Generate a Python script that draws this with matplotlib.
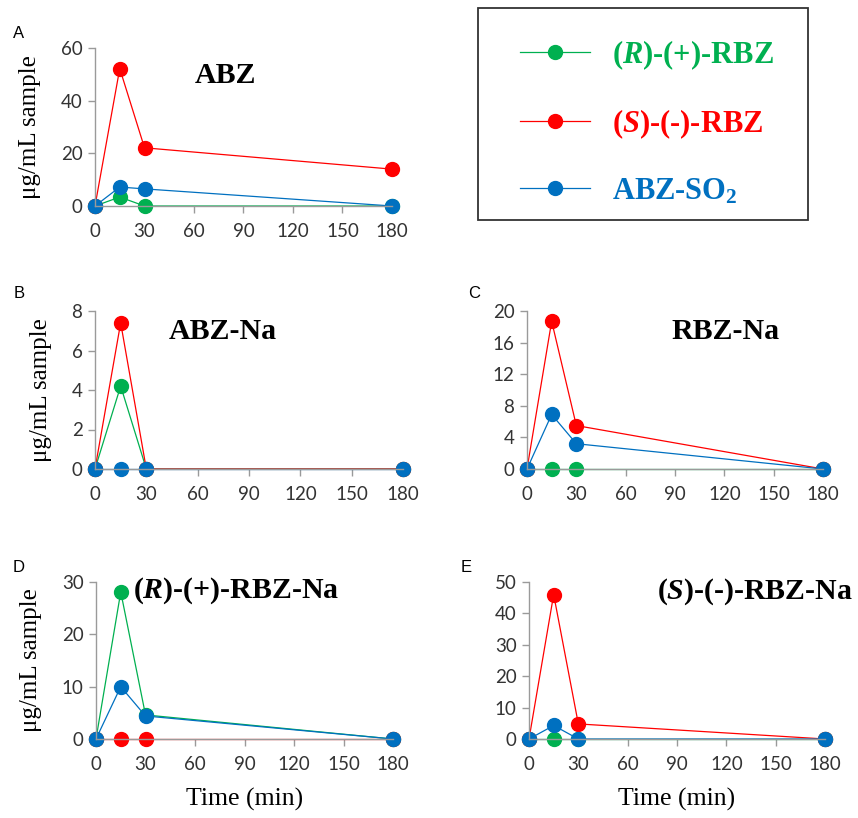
"""
plot.py
Concentraciones de RBZ / ABZ-SO2 en el tiempo (cinco paneles + leyenda).
"""
import matplotlib
matplotlib.use("Agg")
import matplotlib.pyplot as plt
from matplotlib.patches import Rectangle

plt.rcParams["mathtext.fontset"] = "custom"
plt.rcParams["mathtext.rm"] = "Liberation Serif:bold"
plt.rcParams["mathtext.bf"] = "Liberation Serif:bold"
plt.rcParams["mathtext.it"] = "Liberation Serif:italic:bold"

times = [0, 15, 30, 180]
xticks = [0, 30, 60, 90, 120, 150, 180]

series_names = [r"($\mathit{R}$)-(+)-RBZ", r"($\mathit{S}$)-(-)-RBZ", r"ABZ-SO$_2$"]
colors = ["#00B050", "#FF0000", "#0070C0"]

# A: ABZ
abz_r = [0, 3.4, 0, 0]
abz_s = [0, 52.2, 22.1, 14.0]
abz_so2 = [0, 7.2, 6.5, 0]
# B: ABZ-Na
abzna_r = [0, 4.2, 0, 0]
abzna_s = [0, 7.4, 0, 0]
abzna_so2 = [0, 0, 0, 0]
# C: RBZ-Na
rbzna_r = [0, 0, 0, 0]
rbzna_s = [0, 18.7, 5.5, 0]
rbzna_so2 = [0, 6.9, 3.2, 0]
# D: (R)-(+)-RBZ-Na
rna_r = [0, 28.1, 4.6, 0]
rna_s = [0, 0, 0, 0]
rna_so2 = [0, 10.0, 4.4, 0]
# E: (S)-(-)-RBZ-Na
sna_r = [0, 0, 0, 0]
sna_s = [0, 46.0, 4.8, 0]
sna_so2 = [0, 4.3, 0, 0]

W, H = 858, 818

def px_rect(x0, x1, ytop, ybot):
    return [x0 / W, 1 - ybot / H, (x1 - x0) / W, (ybot - ytop) / H]

panels = [
    dict(letter="A", lpos=(19, 34), title="ABZ", tpos=(0.438, 0.823), tha="center",
         rect=px_rect(95, 392, 48, 206), ymax=60, ystep=20,
         data=[abz_r, abz_s, abz_so2], ylabel=True, xlabel=False),
    dict(letter="B", lpos=(19, 294), title="ABZ-Na", tpos=(0.416, 0.873), tha="center",
         rect=px_rect(95, 403, 311, 469), ymax=8, ystep=2,
         data=[abzna_r, abzna_s, abzna_so2], ylabel=True, xlabel=False),
    dict(letter="C", lpos=(474, 294), title="RBZ-Na", tpos=(0.672, 0.873), tha="center",
         rect=px_rect(527, 823, 311, 469), ymax=20, ystep=4,
         data=[rbzna_r, rbzna_s, rbzna_so2], ylabel=False, xlabel=False),
    dict(letter="D", lpos=(19, 568), title=r"($\mathit{R}$)-(+)-RBZ-Na", tpos=(0.125, 0.943), tha="left",
         rect=px_rect(96, 393, 582, 739), ymax=30, ystep=10,
         data=[rna_r, rna_s, rna_so2], ylabel=True, xlabel=True),
    dict(letter="E", lpos=(466, 568), title=r"($\mathit{S}$)-(-)-RBZ-Na", tpos=(0.432, 0.936), tha="left",
         rect=px_rect(529, 825, 582, 739), ymax=50, ystep=10,
         data=[sna_r, sna_s, sna_so2], ylabel=False, xlabel=True),
]

fig = plt.figure(figsize=(W / 100, H / 100), dpi=100)
axis_grey = "#9A9A9A"
tick_font = dict(family="Lato", size=13.5, color="#333333")
legend_lines = None

for p in panels:
    ax = fig.add_axes(p["rect"])
    lines = []
    for vals, col in zip(p["data"], colors):
        ln, = ax.plot(times, vals, color=col, lw=0.9, marker="o", ms=10,
                      mec=col, mfc=col, clip_on=False)
        lines.append(ln)
    if legend_lines is None:
        legend_lines = lines
    ax.set_xlim(0, 180)
    ax.set_ylim(0, p["ymax"])
    ax.set_xticks(xticks)
    ax.set_yticks(range(0, p["ymax"] + 1, p["ystep"]))
    for s in ["top", "right"]:
        ax.spines[s].set_visible(False)
    for s in ["left", "bottom"]:
        ax.spines[s].set_color(axis_grey)
        ax.spines[s].set_linewidth(1.0)
    ax.tick_params(axis="both", direction="out", length=5, width=1.0, color=axis_grey)
    ax.tick_params(axis="x", pad=7)
    ax.tick_params(axis="y", pad=4)
    for lab in ax.get_xticklabels() + ax.get_yticklabels():
        lab.set_fontfamily(tick_font["family"])
        lab.set_fontsize(tick_font["size"])
        lab.set_color(tick_font["color"])
    ax.text(p["tpos"][0], p["tpos"][1], p["title"], transform=ax.transAxes,
            ha=p["tha"], va="center", family="Liberation Serif", weight="bold", size=21.5)
    if p["ylabel"]:
        ax.set_ylabel("μg/mL sample", family="Liberation Serif", size=18, labelpad=14)
    if p["xlabel"]:
        ax.set_xlabel("Time (min)", family="Liberation Serif", size=18.5, labelpad=11)
    fig.text(p["lpos"][0] / W, 1 - p["lpos"][1] / H, p["letter"], ha="center", va="center",
             family="Liberation Sans", size=12)

# recuadro de la leyenda
fig.patches.append(Rectangle((478 / W, 1 - 220 / H), 330 / W, 212 / H,
                             transform=fig.transFigure, fill=False,
                             edgecolor="#333333", linewidth=1.3))

fig.legend(legend_lines, series_names, loc="upper left",
           bbox_to_anchor=(520 / W, 1 - 38 / H), bbox_transform=fig.transFigure,
           prop=dict(family="Liberation Serif", weight="bold", size=22),
           labelcolor="linecolor", frameon=False, borderpad=0, labelspacing=1.17,
           handlelength=2.3, handletextpad=0.72, borderaxespad=0)

fig.savefig("out.png", dpi=100)
